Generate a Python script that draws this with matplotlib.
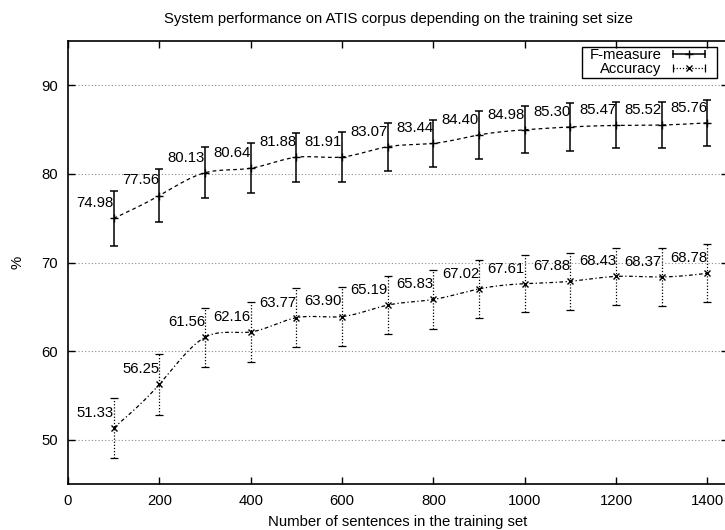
import numpy as np
import matplotlib
matplotlib.use("Agg")
import matplotlib.pyplot as plt
from matplotlib.lines import Line2D
from matplotlib.patches import Rectangle
from matplotlib.legend_handler import HandlerLine2D, HandlerTuple

plt.rcParams['font.family'] = ['Liberation Sans', 'DejaVu Sans']

# training set sizes
sizes = [100, 200, 300, 400, 500, 600, 700, 800, 900, 1000, 1100, 1200, 1300, 1400]

# F-measure (%) and its error
fmeasure = [74.98, 77.56, 80.13, 80.64, 81.88, 81.91, 83.07, 83.44, 84.40, 84.98,
            85.30, 85.47, 85.52, 85.76]
fmeasure_err = [3.1, 3.0, 2.85, 2.8, 2.75, 2.8, 2.73, 2.69, 2.68, 2.66,
                2.7, 2.59, 2.56, 2.58]

# accuracy (%) and its error
accuracy = [51.33, 56.25, 61.56, 62.16, 63.77, 63.90, 65.19, 65.83, 67.02, 67.61,
            67.88, 68.43, 68.37, 68.78]
accuracy_err = [3.4, 3.43, 3.35, 3.35, 3.3, 3.33, 3.3, 3.28, 3.27, 3.25,
                3.22, 3.24, 3.25, 3.26]

yticks = [50, 60, 70, 80, 90]
xticks = [0, 200, 400, 600, 800, 1000, 1200, 1400]


def natural_spline(x, y, xs):
    """natural cubic spline through (x, y), like gnuplot 'smooth csplines'"""
    x = np.asarray(x, float)
    y = np.asarray(y, float)
    n = len(x)
    h = np.diff(x)
    A = np.zeros((n, n))
    b = np.zeros(n)
    A[0, 0] = 1
    A[-1, -1] = 1
    for i in range(1, n - 1):
        A[i, i - 1] = h[i - 1]
        A[i, i] = 2 * (h[i - 1] + h[i])
        A[i, i + 1] = h[i]
        b[i] = 6 * ((y[i + 1] - y[i]) / h[i] - (y[i] - y[i - 1]) / h[i - 1])
    M = np.linalg.solve(A, b)
    idx = np.clip(np.searchsorted(x, xs) - 1, 0, n - 2)
    x0, x1 = x[idx], x[idx + 1]
    hh = x1 - x0
    a = (x1 - xs) / hh
    c = (xs - x0) / hh
    return (a * y[idx] + c * y[idx + 1]
            + ((a ** 3 - a) * M[idx] + (c ** 3 - c) * M[idx + 1]) * hh ** 2 / 6)


fig = plt.figure(figsize=(7.25, 5.3), dpi=100)
ax = fig.add_axes([68 / 725, 46 / 530, 660 / 725, 443 / 530])

xs = np.linspace(sizes[0], sizes[-1], 400)

# F-measure
ax.plot(xs, natural_spline(sizes, fmeasure, xs), color='black', lw=0.9,
        dashes=(3, 2.5))
ax.errorbar(sizes, fmeasure, yerr=fmeasure_err, fmt='none', ecolor='black',
            elinewidth=1.1, capsize=2.6, capthick=1.1)
ax.plot(sizes, fmeasure, ls='none', marker='+', ms=5.5, mew=1.0, color='black')

# Accuracy
ax.plot(xs, natural_spline(sizes, accuracy, xs), color='black', lw=0.9,
        dashes=(3, 2, 1, 2))
eb = ax.errorbar(sizes, accuracy, yerr=accuracy_err, fmt='none', ecolor='black',
                 elinewidth=0.9, capsize=2.6, capthick=0.9)
eb[2][0].set_linestyle((0, (1, 1.5)))
ax.plot(sizes, accuracy, ls='none', marker='x', ms=5, mew=1.0, color='black')

# value labels
for x, y in zip(sizes, fmeasure):
    ax.text(x, y + 1.7, f'{y:.2f}', ha='right', va='center', fontsize=10.7)
for x, y in zip(sizes, accuracy):
    ax.text(x, y + 1.7, f'{y:.2f}', ha='right', va='center', fontsize=10.7)

ax.set_xlim(0, 1445)
ax.set_ylim(45, 95)
ax.set_xticks(xticks)
ax.set_yticks(yticks)
ax.tick_params(direction='in', top=True, right=True, length=5, width=1,
               labelsize=10.7, pad=7)
ax.yaxis.grid(True, color='#8c8c8c', lw=0.8, dashes=(1, 2))
for sp in ax.spines.values():
    sp.set_linewidth(1.2)

ax.set_title('System performance on ATIS corpus depending on the training set size',
             fontsize=10.7, pad=13)
ax.set_xlabel('Number of sentences in the training set', fontsize=10.7, labelpad=5)
ax.set_ylabel('%', fontsize=10.7, labelpad=12)

# legend in gnuplot style: text then sample with end caps
f_line = Line2D([], [], color='black', lw=1.1, marker='|', ms=6, mew=1.1)
f_mark = Line2D([], [], color='black', ls='none', marker='+', ms=5.5, mew=1.0)
a_line = Line2D([], [], color='black', lw=0.9, ls=(0, (1, 1.5)), marker='|',
                ms=6, mew=0.9)
a_mark = Line2D([], [], color='black', ls='none', marker='x', ms=5, mew=1.0)
leg = ax.legend([(f_line, f_mark), (a_line, a_mark)], ['F-measure', 'Accuracy'],
                handler_map={f_line: HandlerLine2D(numpoints=2),
                             a_line: HandlerLine2D(numpoints=2),
                             f_mark: HandlerLine2D(numpoints=1),
                             a_mark: HandlerLine2D(numpoints=1),
                             tuple: HandlerTuple(ndivide=1, pad=0)},
                loc='upper left', bbox_to_anchor=(588 / 725, 1 - 47 / 530),
                bbox_transform=fig.transFigure, markerfirst=False,
                frameon=False, fontsize=10.7,
                borderpad=0.1, labelspacing=0.0, handlelength=2.8,
                handletextpad=0.45, borderaxespad=0)

# gnuplot key box, a little wider than the legend content
fig.canvas.draw()
bb = leg.get_window_extent().transformed(fig.transFigure.inverted())
padx = 6 / 725
fig.patches.append(Rectangle((bb.x0 - padx, bb.y0), bb.width + 2 * padx, bb.height,
                             transform=fig.transFigure, fill=False,
                             edgecolor='black', lw=1.0, zorder=5))

fig.savefig('out.png', dpi=100)
